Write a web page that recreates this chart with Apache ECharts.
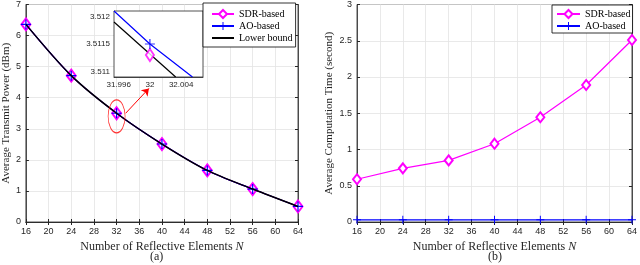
<!DOCTYPE html>
<html><head><meta charset="utf-8">
<script src="https://cdn.jsdelivr.net/npm/echarts@6/dist/echarts.min.js"></script>
<style>html,body{margin:0;padding:0;background:#fff}#c{width:640px;height:265px}</style>
</head><body><div id="c"></div>
<script>
// ---- data ----
var N = [16, 24, 32, 40, 48, 56, 64];
var powerSDR = [6.36, 4.71, 3.50, 2.51, 1.66, 1.06, 0.50];
var powerAO = [6.36, 4.71, 3.50, 2.51, 1.66, 1.06, 0.50];
var powerLB = [6.36, 4.71, 3.50, 2.51, 1.66, 1.06, 0.50];
var timeSDR = [0.59, 0.74, 0.85, 1.08, 1.445, 1.89, 2.51];
var timeAO = [0.03, 0.03, 0.03, 0.03, 0.03, 0.03, 0.03];
// inset (zoom near N = 32)
var insetAOline = [[31.9954, 3.5121], [32, 3.5115], [32.00545, 3.5109]];
var insetLBline = [[31.9954, 3.5119], [32.0033, 3.5109]];
var insetAOpt = [[32, 3.5115]];
var insetSDRpt = [[32, 3.5113]];
var insetXTicks = [31.996, 32, 32.004];
var insetYTicks = [3.511, 3.5115, 3.512];
var highlight = [[32, 3.4]];
var arrow = [[33.6, 3.5], [37.7, 4.3]];

function pairs(xs, ys) { return xs.map(function (x, i) { return [x, ys[i]]; }); }

var TXT = '#262626';
var SANS = 'Liberation Sans, Arial, sans-serif';
var SERIF = 'Liberation Serif, Times New Roman, serif';
var plusPath = 'path://M4.4,0h1.2v4.4h4.4v1.2h-4.4v4.4h-1.2v-4.4h-4.4v-1.2h4.4z';

function mainX(gi, name) {
  return [{
    type: 'value', gridIndex: gi, min: 16, max: 64, interval: 4,
    name: name, nameLocation: 'middle', nameGap: 13,
    nameTextStyle: { rich: { a: { fontFamily: SERIF, fontSize: 12, color: TXT }, i: { fontFamily: SERIF, fontSize: 12, fontStyle: 'italic', color: TXT } } },
    axisLine: { lineStyle: { color: TXT, width: 0.8 } },
    axisTick: { inside: true, length: 3, lineStyle: { color: TXT } },
    axisLabel: { fontFamily: SANS, fontSize: 9, color: TXT, margin: 5 },
    splitLine: { show: true, lineStyle: { color: '#e3e3e3', width: 0.8 } }
  }, {
    type: 'value', gridIndex: gi, min: 16, max: 64, interval: 4, position: 'top',
    axisLine: { lineStyle: { color: TXT, width: 0.8 } },
    axisTick: { inside: true, length: 3, lineStyle: { color: TXT } },
    axisLabel: { show: false }, splitLine: { show: false }
  }];
}
function mainY(gi, max, interval, name, gap) {
  return [{
    type: 'value', gridIndex: gi, min: 0, max: max, interval: interval,
    name: name, nameLocation: 'middle', nameGap: gap,
    nameTextStyle: { fontFamily: SERIF, fontSize: 11, color: TXT },
    axisLine: { show: true, lineStyle: { color: TXT, width: 0.8 } },
    axisTick: { show: true, inside: true, length: 3, lineStyle: { color: TXT } },
    axisLabel: { fontFamily: SANS, fontSize: 9, color: TXT, margin: 5 },
    splitLine: { show: true, lineStyle: { color: '#e3e3e3', width: 0.8 } }
  }, {
    type: 'value', gridIndex: gi, min: 0, max: max, interval: interval, position: 'right',
    axisLine: { show: true, lineStyle: { color: TXT, width: 0.8 } },
    axisTick: { show: true, inside: true, length: 3, lineStyle: { color: TXT } },
    axisLabel: { show: false }, splitLine: { show: false }
  }];
}

var xAxes = [].concat(mainX(0, '{a|Number of Reflective Elements }{i|N}'), mainX(1, '{a|Number of Reflective Elements }{i|N}'));
var yAxes = [].concat(mainY(0, 7, 1, 'Average Transmit Power (dBm)', 12), mainY(1, 3, 0.5, 'Average Computation Time (second)', 22));
// inset axes (index 4)
xAxes.push({
  type: 'value', gridIndex: 2, min: 31.9954, max: 32.0068,
  axisLine: { onZero: false, lineStyle: { color: TXT, width: 0.8 } },
  axisTick: { inside: true, length: 2, customValues: insetXTicks, lineStyle: { color: TXT } },
  axisLabel: { fontFamily: SANS, fontSize: 8, color: TXT, margin: 4, customValues: insetXTicks },
  splitLine: { show: false }
});
yAxes.push({
  type: 'value', gridIndex: 2, min: 3.5109, max: 3.5121,
  axisLine: { show: true, onZero: false, lineStyle: { color: TXT, width: 0.8 } },
  axisTick: { show: true, inside: true, length: 2, customValues: insetYTicks, lineStyle: { color: TXT } },
  axisLabel: { fontFamily: SANS, fontSize: 8, color: TXT, margin: 4, customValues: insetYTicks },
  splitLine: { show: false }
});

var legendText = { fontFamily: SERIF, fontSize: 10, color: '#000' };

var option = {
  animation: false,
  backgroundColor: '#fff',
  grid: [
    { left: 22, right: 342, top: 4, bottom: 43, show: true, borderColor: TXT, borderWidth: 0.8 },
    { left: 357, right: 5, top: 4, bottom: 43, show: true, borderColor: TXT, borderWidth: 0.8 },
    { left: 114, top: 11, width: 89, height: 66, show: true, backgroundColor: '#fff', borderColor: TXT, borderWidth: 0.8, z: 10 }
  ],
  xAxis: xAxes,
  yAxis: yAxes,
  legend: [
    { data: ['SDR-based', 'AO-based', { name: 'Lower bound', itemStyle: { color: 'transparent', borderColor: 'transparent', borderWidth: 0, opacity: 0 } }],
      orient: 'vertical', left: 203, top: 3,
      itemWidth: 22, itemHeight: 10, itemGap: 2, padding: [6, 3, 4, 8], backgroundColor: '#fff',
      borderColor: '#000', borderWidth: 0.8, borderRadius: 0, textStyle: legendText, z: 20 },
    { data: ['SDR-based', 'AO-based'], orient: 'vertical', left: 552, top: 5,
      itemWidth: 23, itemHeight: 10, itemGap: 2, padding: [4, 2, 2, 4], backgroundColor: '#fff',
      borderColor: '#000', borderWidth: 0.8, borderRadius: 0, textStyle: legendText, z: 20 }
  ],
  graphic: [
    { type: 'text', left: 150, top: 251, style: { text: '(a)', font: '12px ' + SERIF, fill: TXT } },
    { type: 'text', left: 488, top: 251, style: { text: '(b)', font: '12px ' + SERIF, fill: TXT } }
  ],
  series: [
    { name: 'SDR-based', type: 'line', xAxisIndex: 0, yAxisIndex: 0, data: pairs(N, powerSDR), smooth: 0.3,
      symbol: 'emptyDiamond', symbolSize: [9, 12], lineStyle: { color: '#ff00ff', width: 1.2 },
      itemStyle: { color: '#ff00ff', borderWidth: 1.5 }, z: 3 },
    { name: 'AO-based', type: 'line', xAxisIndex: 0, yAxisIndex: 0, data: pairs(N, powerAO), smooth: 0.3,
      symbol: plusPath, symbolSize: 10, lineStyle: { color: '#0000ff', width: 1.2 },
      itemStyle: { color: '#0000ff' }, z: 4 },
    { name: 'Lower bound', type: 'line', xAxisIndex: 0, yAxisIndex: 0, data: pairs(N, powerLB), smooth: 0.3,
      symbol: 'none', lineStyle: { color: '#000', width: 1.5 }, itemStyle: { color: '#000' }, z: 5 },
    { name: 'highlight', type: 'scatter', xAxisIndex: 0, yAxisIndex: 0, data: highlight,
      symbol: 'circle', symbolSize: [17, 33], itemStyle: { color: 'transparent', borderColor: '#ff0000', borderWidth: 1 }, z: 6,
      markLine: { silent: true, symbol: ['none', 'arrow'], symbolSize: 7, label: { show: false },
        lineStyle: { color: '#ff0000', type: 'solid', width: 1 },
        data: [[{ coord: arrow[0] }, { coord: arrow[1] }]] } },
    { name: 'SDR-based', type: 'line', xAxisIndex: 2, yAxisIndex: 2, data: pairs(N, timeSDR),
      symbol: 'emptyDiamond', symbolSize: [8, 10], lineStyle: { color: '#ff00ff', width: 1.2 },
      itemStyle: { color: '#ff00ff', borderWidth: 1.2 } },
    { name: 'AO-based', type: 'line', xAxisIndex: 2, yAxisIndex: 2, data: pairs(N, timeAO),
      symbol: plusPath, symbolSize: 8, lineStyle: { color: '#0000ff', width: 1.2 },
      itemStyle: { color: '#0000ff' } },
    // inset
    { name: 'inset-AO', type: 'line', xAxisIndex: 4, yAxisIndex: 4, data: insetAOline, symbol: 'none',
      lineStyle: { color: '#0000ff', width: 1.2 }, z: 11 },
    { name: 'inset-LB', type: 'line', xAxisIndex: 4, yAxisIndex: 4, data: insetLBline, symbol: 'none',
      lineStyle: { color: '#000', width: 1.2 }, z: 11 },
    { name: 'inset-SDRpt', type: 'scatter', xAxisIndex: 4, yAxisIndex: 4, data: insetSDRpt,
      symbol: 'emptyDiamond', symbolSize: [8, 12], itemStyle: { color: '#ff00ff', borderWidth: 1.2 }, z: 12 },
    { name: 'inset-AOpt', type: 'scatter', xAxisIndex: 4, yAxisIndex: 4, data: insetAOpt,
      symbol: plusPath, symbolSize: 10, itemStyle: { color: '#0000ff' }, z: 12 }
  ]
};
var chart = echarts.init(document.getElementById('c'), null, { renderer: 'canvas' });
chart.setOption(option);
</script></body></html>
